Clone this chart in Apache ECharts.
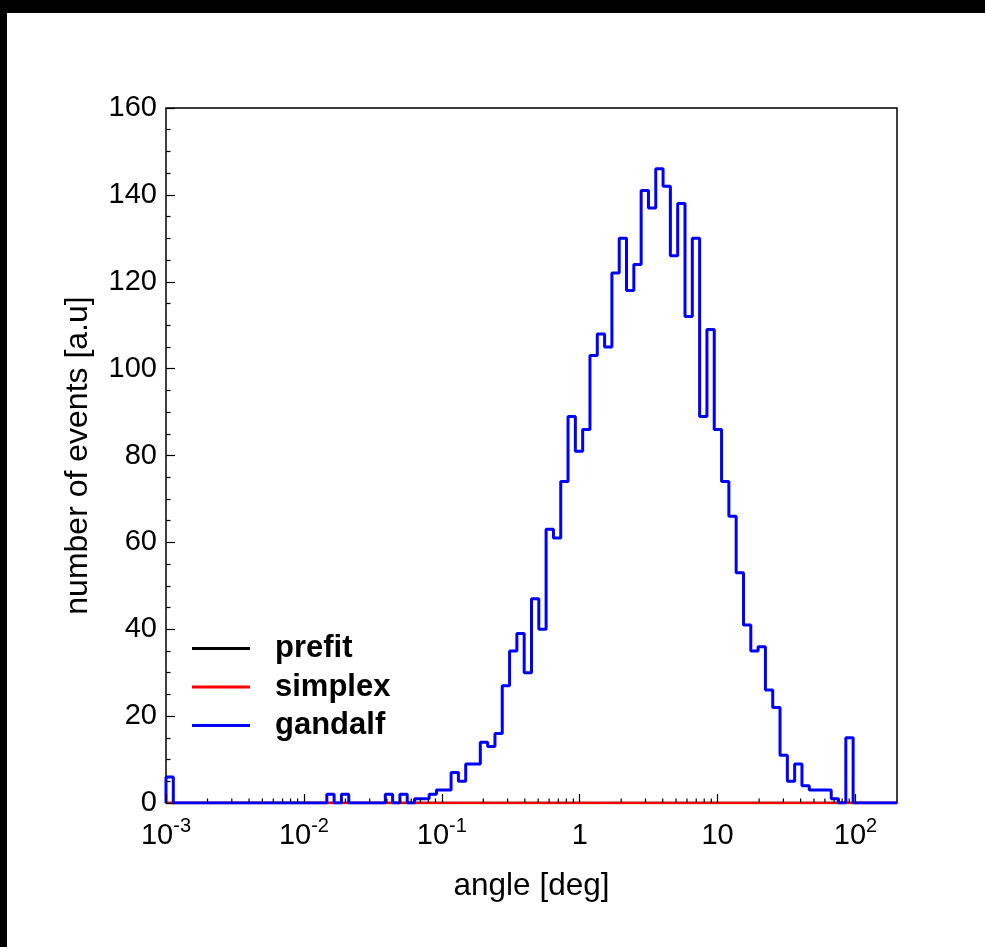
<!DOCTYPE html>
<html>
<head>
<meta charset="utf-8">
<title>angle</title>
<script src="https://cdn.jsdelivr.net/npm/echarts@6/dist/echarts.min.js"></script>
<style>
html,body{margin:0;padding:0;background:#000;}
#box{position:absolute;left:7px;top:13px;width:978px;height:934px;background:#fff;}
</style>
</head>
<body>
<div id="box"></div>
<script>
// 100 log bins, 1e-3 .. 200 deg
var binLo = 0.001, binHi = 200, nBins = 100;

var prefit = [
	0,0,0,0,0,0,0,0,0,0,0,0,0,0,0,0,0,0,0,0,
	0,0,0,0,0,0,0,0,0,0,0,0,0,0,0,0,0,0,0,0,
	0,0,0,0,0,0,0,0,0,0,0,0,0,0,0,0,0,0,0,0,
	0,0,0,0,0,0,0,0,0,0,0,0,0,0,0,0,0,0,0,0,
	0,0,0,0,0,0,0,0,0,0,0,0,0,0,0,0,0,0,0,0
];
var simplex = [
	0,0,0,0,0,0,0,0,0,0,0,0,0,0,0,0,0,0,0,0,
	0,0,0,0,0,0,0,0,0,0,0,0,0,0,0,0,0,0,0,0,
	0,0,0,0,0,0,0,0,0,0,0,0,0,0,0,0,0,0,0,0,
	0,0,0,0,0,0,0,0,0,0,0,0,0,0,0,0,0,0,0,0,
	0,0,0,0,0,0,0,0,0,0,0,0,0,0,0,0,0,0,0,0
];
var gandalf = [
	6,0,0,0,0,0,0,0,0,0,
	0,0,0,0,0,0,0,0,0,0,
	0,0,2,0,2,0,0,0,0,0,
	2,0,2,0,1,1,2,3,3,7,
	5,9,9,14,13,16,27,35,39,30,
	47,40,63,61,74,89,81,86,103,108,
	105,122,130,118,124,141,137,146,142,126,
	138,112,130,89,109,86,74,66,53,41,
	35,36,26,22,11,5,9,4,3,3,
	3,1,0,15,0,0,0,0,0,0
];

var legendNames = ['prefit', 'simplex', 'gandalf'];
var lineColors = ['#000000', '#ff0000', '#0000ff'];
var lineWidths = [2.5, 2.5, 3];
var xDecades = [-3, -2, -1, 0, 1, 2];
var xMinorMult = [2, 3, 4, 5, 6, 7, 8, 9];

var font = 'Liberation Sans, Arial, Helvetica, sans-serif';

function binEdges(){
	var e = [], a = Math.log10(binLo), b = Math.log10(binHi);
	for (var i = 0; i <= nBins; i++) {
		e.push(Math.pow(10, a + (b - a) * i / nBins));
	}
	return e;
}

// histogram outline as step points
function steps(vals, e){
	var pts = [[e[0], 0]];
	for (var i = 0; i < vals.length; i++) {
		pts.push([e[i], vals[i]]);
	}
	pts.push([e[vals.length], vals[vals.length - 1]]);
	return pts;
}

function minorTicks(){
	var out = [];
	for (var d = 0; d < xDecades.length; d++) {
		for (var m = 0; m < xMinorMult.length; m++) {
			var v = xMinorMult[m] * Math.pow(10, xDecades[d]);
			if (v < binHi) out.push([v, 0]);
		}
	}
	return out;
}

window.onload = function(){
	var myChart = echarts.init(document.getElementById('box'));
	var e = binEdges();
	var hists = [prefit, simplex, gandalf];
	var series = [];
	for (var i = 0; i < hists.length; i++) {
		series.push({
			name: legendNames[i],
			type: 'line',
			step: 'end',
			symbol: 'none',
			showSymbol: false,
			color: lineColors[i],
			lineStyle: {color: lineColors[i], width: lineWidths[i]},
			data: steps(hists[i], e),
			z: 2 + i
		});
	}
	// log minor ticks on x
	series.push({
		type: 'custom',
		silent: true,
		z: 10,
		data: minorTicks(),
		encode: {x: 0, y: 1},
		renderItem: function(params, api){
			var p = api.coord([api.value(0), 0]);
			return {
				type: 'line',
				shape: {x1: p[0], y1: p[1], x2: p[0], y2: p[1] - 4.5},
				style: {stroke: '#000', lineWidth: 1.2}
			};
		}
	});

	var option = {
		animation: false,
		grid: {
			left: 159, top: 95, right: 88, bottom: 144,
			show: true, borderColor: '#000', borderWidth: 1.5,
			backgroundColor: 'transparent'
		},
		legend: {
			data: legendNames,
			orient: 'vertical',
			left: 185,
			top: 620,
			padding: 0,
			icon: 'rect',
			itemWidth: 58,
			itemHeight: 3,
			itemGap: 7.5,
			selectedMode: false,
			textStyle: {
				fontSize: 31, fontWeight: 'bold', fontFamily: font, color: '#000',
				lineHeight: 30, padding: [0, 0, 0, 20]
			}
		},
		xAxis: {
			type: 'log',
			logBase: 10,
			min: binLo,
			max: binHi,
			z: 10,
			name: 'angle [deg]',
			nameLocation: 'middle',
			nameGap: 67,
			nameTextStyle: {fontSize: 31.5, fontFamily: font, color: '#000'},
			axisLine: {show: false},
			axisTick: {inside: true, length: 9, lineStyle: {color: '#000', width: 1.2}},
			splitLine: {show: false},
			axisLabel: {
				margin: 13,
				showMaxLabel: false,
				formatter: function(v){
					var l = Math.log10(v), n = Math.round(l);
					if (Math.abs(l - n) > 1e-6) return '';
					if (n == 0) return '{b|1}';
					if (n == 1) return '{b|10}';
					return '{b|10}{s|' + n + '}';
				},
				rich: {
					b: {fontSize: 29, lineHeight: 40, fontFamily: font, color: '#000'},
					s: {fontSize: 20, lineHeight: 17, verticalAlign: 'top', fontFamily: font, color: '#000'}
				}
			}
		},
		yAxis: {
			type: 'value',
			min: 0,
			max: 160,
			interval: 20,
			z: 10,
			name: 'number of events [a.u]',
			nameLocation: 'middle',
			nameGap: 72,
			nameTextStyle: {fontSize: 32, fontFamily: font, color: '#000'},
			axisLine: {show: false},
			axisTick: {inside: true, length: 9, lineStyle: {color: '#000', width: 1.2}},
			minorTick: {show: true, splitNumber: 4, length: 4.5, lineStyle: {color: '#000', width: 1.2}},
			splitLine: {show: false},
			axisLabel: {fontSize: 29, fontFamily: font, color: '#000', margin: 9}
		},
		series: series
	};
	myChart.setOption(option);
}
</script>
</body>
</html>
